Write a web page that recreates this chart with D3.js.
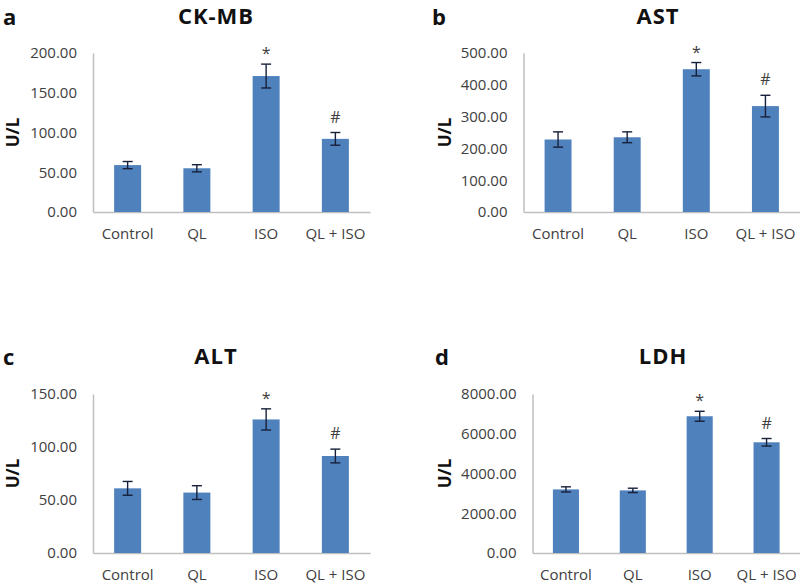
<!DOCTYPE html>
<html>
<head>
<meta charset="utf-8">
<script src="https://cdn.jsdelivr.net/npm/d3@7"></script>
<style>
  html, body { margin: 0; padding: 0; background: #fff; }
  svg { display: block; }
</style>
</head>
<body>
<svg id="chart" width="800" height="586"></svg>
<script>
// ---- Data ----
const categories = ["Control", "QL", "ISO", "QL + ISO"];

const ckmbMeans  = [59, 55, 171, 92];
const ckmbErrors = [4.5, 4.5, 15, 8];
const ckmbTicks  = [0, 50, 100, 150, 200];

const astMeans  = [228, 235, 449, 333];
const astErrors = [24, 17, 21, 34];
const astTicks  = [0, 100, 200, 300, 400, 500];

const altMeans  = [61, 57, 126, 91.5];
const altErrors = [6.5, 6.5, 10, 6.5];
const altTicks  = [0, 50, 100, 150];

const ldhMeans  = [3200, 3150, 6880, 5570];
const ldhErrors = [130, 110, 250, 190];
const ldhTicks  = [0, 2000, 4000, 6000, 8000];

const markers = ["", "", "*", "#"];
const panelLetters = ["a", "b", "c", "d"];
const panelTitles = ["CK-MB", "AST", "ALT", "LDH"];
const yLabel = "U/L";

// ---- Layout (positions only) ----
const panels = [
  { letter: panelLetters[0], title: panelTitles[0], means: ckmbMeans, errs: ckmbErrors, ticks: ckmbTicks,
    left: 0, x0: 93, x1: 370, yTop: 53, yBot: 212, letterX: 3, titleX: 216, headY: 23.5 },
  { letter: panelLetters[1], title: panelTitles[1], means: astMeans, errs: astErrors, ticks: astTicks,
    left: 432, x0: 523.5, x1: 800, yTop: 53, yBot: 212, letterX: 432, titleX: 658, headY: 23.5 },
  { letter: panelLetters[2], title: panelTitles[2], means: altMeans, errs: altErrors, ticks: altTicks,
    left: 0, x0: 93, x1: 370, yTop: 394, yBot: 553, letterX: 3, titleX: 216, headY: 363.5 },
  { letter: panelLetters[3], title: panelTitles[3], means: ldhMeans, errs: ldhErrors, ticks: ldhTicks,
    left: 432, x0: 532.5, x1: 800, yTop: 394, yBot: 553, letterX: 435, titleX: 663, headY: 363.5 }
];

const FONT = "'Open Sans', 'Noto Sans', sans-serif";
const BAR = "#4F81BD";
const AXIS = "#BFBFBF";
const TXT = "#404040";
const ERR = "#17203A";

const svg = d3.select("#chart");

panels.forEach(p => {
  const g = svg.append("g");
  const x = d3.scaleBand().domain(categories).range([p.x0, p.x1])
              .paddingInner(0.61).paddingOuter(0.305);
  const y = d3.scaleLinear().domain([0, d3.max(p.ticks)]).range([p.yBot, p.yTop]);

  // panel letter
  g.append("text").attr("x", p.letterX).attr("y", p.headY + 1)
    .attr("font-family", FONT).attr("font-weight", "bold").attr("font-size", 22)
    .attr("fill", "#111").text(p.letter);

  // title
  g.append("text").attr("x", p.titleX).attr("y", p.headY)
    .attr("text-anchor", "middle")
    .attr("font-family", FONT).attr("font-weight", "bold").attr("font-size", 22)
    .attr("letter-spacing", 1)
    .attr("fill", "#111").text(p.title);

  // y axis
  const yAxis = d3.axisLeft(y).tickValues(p.ticks).tickFormat(d3.format(".2f"))
                  .tickSize(0).tickPadding(16);
  const ya = g.append("g").attr("transform", `translate(${p.x0},0)`).call(yAxis);
  ya.select(".domain").attr("stroke", AXIS).attr("stroke-width", 1.5);
  ya.selectAll("text").attr("font-family", FONT).attr("font-size", 15).attr("fill", TXT);

  // x axis
  const xAxis = d3.axisBottom(x).tickSize(0).tickPadding(0).tickSizeOuter(0);
  const xa = g.append("g").attr("transform", `translate(0,${p.yBot})`).call(xAxis);
  xa.select(".domain").attr("stroke", AXIS).attr("stroke-width", 1.5);
  xa.selectAll("text").attr("font-family", FONT).attr("font-size", 15).attr("fill", TXT)
    .attr("dy", null).attr("y", 27);

  // y label
  g.append("text")
    .attr("transform", `translate(${p.left + 19},${(p.yTop + p.yBot) / 2}) rotate(-90)`)
    .attr("text-anchor", "middle")
    .attr("font-family", FONT).attr("font-weight", "bold").attr("font-size", 17)
    .attr("fill", "#111").text(yLabel);

  const rows = categories.map((c, i) => ({ c, m: p.means[i], e: p.errs[i], mk: markers[i] }));

  // bars
  g.selectAll("rect.bar").data(rows).enter().append("rect")
    .attr("class", "bar")
    .attr("x", d => x(d.c)).attr("width", x.bandwidth())
    .attr("y", d => y(d.m)).attr("height", d => y(0) - y(d.m))
    .attr("fill", BAR);

  // error bars
  const cap = 5;
  const eg = g.selectAll("g.err").data(rows).enter().append("g").attr("class", "err")
    .attr("stroke", ERR).attr("stroke-width", 1.4);
  eg.append("line")
    .attr("x1", d => x(d.c) + x.bandwidth() / 2).attr("x2", d => x(d.c) + x.bandwidth() / 2)
    .attr("y1", d => y(d.m + d.e)).attr("y2", d => y(d.m - d.e));
  eg.append("line")
    .attr("x1", d => x(d.c) + x.bandwidth() / 2 - cap).attr("x2", d => x(d.c) + x.bandwidth() / 2 + cap)
    .attr("y1", d => y(d.m + d.e)).attr("y2", d => y(d.m + d.e));
  eg.append("line")
    .attr("x1", d => x(d.c) + x.bandwidth() / 2 - cap).attr("x2", d => x(d.c) + x.bandwidth() / 2 + cap)
    .attr("y1", d => y(d.m - d.e)).attr("y2", d => y(d.m - d.e));

  // significance markers
  g.selectAll("text.mk").data(rows.filter(d => d.mk)).enter().append("text")
    .attr("class", "mk")
    .attr("x", d => x(d.c) + x.bandwidth() / 2)
    .attr("y", d => y(d.m + d.e) - (d.mk === "*" ? 5 : 10))
    .attr("text-anchor", "middle")
    .attr("font-family", FONT).attr("font-size", 16).attr("fill", TXT)
    .text(d => d.mk);
});
</script>
</body>
</html>
